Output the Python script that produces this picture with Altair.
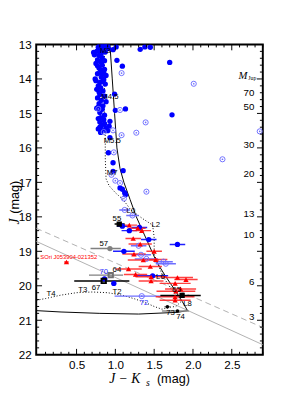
import altair as alt
import pandas as pd

# ---------------- data (J-Ks, J) ----------------
# blue filled circles, no error bars
bf_c = [0.80, 0.83, 0.86, 0.88, 0.90, 0.78, 0.84, 0.91, 0.81, 0.72, 0.76, 0.87,
        0.79, 0.83, 0.77, 0.81, 0.86, 0.75, 0.83, 0.79,
        0.81, 0.85, 0.77, 0.88, 0.82, 0.86,
        0.75, 0.80, 0.84, 0.78, 0.87, 0.81, 0.76, 0.84,
        0.80, 0.86, 0.77, 0.82, 0.79, 0.88, 0.84,
        0.78, 0.83, 0.80, 0.86, 0.81, 0.85,
        0.80, 0.86, 0.82, 0.78, 0.84, 0.88, 0.81,
        0.97, 1.01, 1.02, 1.09, 1.32, 1.38, 1.45, 1.70, 0.99, 1.13, 1.00, 1.73, 0.93, 0.92, 0.90,
        0.93, 0.91, 0.97, 1.10, 0.97, 1.06, 1.09, 1.12, 1.13,
        0.73, 0.77, 0.74, 0.79, 0.85, 0.82, 0.76, 0.80, 0.83, 0.78]
bf_j = [13.02, 13.03, 13.02, 13.05, 13.03, 13.08, 13.10, 13.12, 13.15, 13.23, 13.20, 13.22,
        13.32, 13.38, 13.45, 13.50, 13.47, 13.55, 13.60, 13.68,
        13.75, 13.80, 13.85, 13.90, 13.95, 13.72,
        14.05, 14.10, 14.08, 14.20, 14.15, 14.25, 14.30, 14.35,
        14.45, 14.50, 14.55, 14.62, 14.72, 14.66, 14.78,
        14.82, 14.88, 14.97, 15.05, 15.12, 15.18,
        15.25, 15.30, 15.36, 15.45, 15.50, 15.42, 15.55,
        13.15, 13.07, 13.46, 13.63, 13.14, 13.07, 13.08, 13.52, 14.44, 14.87, 14.91, 15.04, 15.23, 15.37, 15.50,
        15.70, 16.14, 16.43, 16.66, 16.68, 17.16, 17.20, 17.30, 17.36,
        13.30, 13.62, 14.00, 14.38, 14.02, 13.25, 14.85, 15.40, 13.85, 15.15]

# open dotted circles, no error bars
oc_c = [1.08, 2.01, 1.06, 0.78, 1.39, 1.27, 1.08, 0.97, 0.85, 2.86, 2.38, 0.98, 0.95, 1.00, 1.06, 1.40, 1.11]
oc_j = [13.83, 14.14, 14.90, 14.87, 15.26, 15.56, 15.63, 15.49, 15.54, 15.52, 16.33, 16.13, 16.78, 16.95, 17.02, 17.27, 17.47]

# open dotted circles with error bars
oce_c = [1.12, 1.22, 1.30, 1.33, 1.40, 1.62, 1.65, 1.34]
oce_j = [17.80, 17.96, 18.84, 19.10, 19.22, 19.30, 19.36, 20.30]
oce_lo = [1.05, 1.14, 1.20, 1.20, 1.25, 1.50, 1.52, 0.99]
oce_hi = [1.19, 1.30, 1.40, 1.46, 1.55, 1.74, 1.78, 1.75]

# blue filled circles with error bars
bfe_c = [1.09, 1.18, 1.31, 1.43, 1.80, 1.11, 1.48, 0.86, 0.98]
bfe_j = [18.27, 18.40, 18.31, 18.66, 18.80, 19.00, 19.71, 19.80, 19.93]
bfe_lo = [1.02, 1.08, 1.21, 1.33, 1.70, 0.97, 1.25, 0.82, 0.95]
bfe_hi = [1.16, 1.28, 1.41, 1.53, 1.90, 1.25, 1.68, 0.90, 1.01]

# red triangles with error bars
rt_c = [1.18, 1.29, 1.34, 1.23, 1.32, 1.50, 1.24, 1.36, 1.52, 1.45, 1.17, 1.26, 1.46, 1.80, 1.91, 1.77, 1.84, 1.78, 1.77, 1.77, 0.37, 1.46]
rt_j = [18.24, 18.33, 18.40, 18.63, 18.79, 19.00, 19.08, 19.25, 19.24, 19.44, 19.51, 19.67, 19.74, 19.76, 19.82, 19.93, 20.09, 20.16, 20.32, 20.42, 19.31, 19.86]
rt_lo = [1.08, 1.19, 1.22, 1.13, 1.17, 1.40, 1.09, 1.16, 1.37, 1.30, 1.00, 1.11, 1.26, 1.60, 1.76, 1.57, 1.64, 1.53, 1.52, 1.57, 0.34, 1.30]
rt_hi = [1.28, 1.39, 1.46, 1.33, 1.47, 1.60, 1.39, 1.56, 1.67, 1.60, 1.34, 1.41, 1.66, 2.00, 2.06, 1.97, 2.04, 2.03, 2.02, 1.97, 0.40, 1.62]

# black filled squares (55, 65)
bs_c = [1.05, 1.86]
bs_j = [18.21, 20.28]
bs_lo = [0.99, 1.58]
bs_hi = [1.12, 2.10]
# black open square (67)
bo_c = [0.85]
bo_j = [19.86]
bo_lo = [0.47]
bo_hi = [1.18]
# grey objects (57 circle, 64 square)
gc_c = [0.93]
gc_j = [18.92]
gc_lo = [0.68]
gc_hi = [1.07]
gs_c = [0.94]
gs_j = [19.69]
gs_lo = [0.66]
gs_hi = [1.10]
# small black points (73, 74)
bk_c = [1.67, 1.80]
bk_j = [20.61, 20.73]
bk_lo = [1.63, 1.60]
bk_hi = [1.71, 1.95]

# model isochrone (solid)
mod_c = [0.93, 0.96, 0.99, 1.02, 1.06, 1.11, 1.19, 1.27, 1.37, 1.47, 1.53, 1.64, 1.76, 1.86, 1.93, 1.80, 1.30, 0.80, 0.30, -0.02]
mod_j = [13.0, 14.0, 15.0, 16.0, 16.6, 17.0, 17.5, 18.0, 18.5, 19.0, 19.3, 19.7, 20.1, 20.45, 20.72, 20.77, 20.82, 20.80, 20.76, 20.72]
# spectral sequence (dotted)
seq_c = [0.86, 0.86, 0.86, 0.87, 0.87, 0.88, 0.92, 1.00, 1.10, 1.20, 1.35, 1.48, 1.50, 1.50, 1.57, 1.62, 1.72, 1.85, 1.78, 1.70,
         1.60, 1.50, 1.40, 1.25, 1.10, 0.90, 0.70, 0.50, 0.30, 0.10, -0.02]
seq_j = [13.0, 14.0, 15.0, 15.7, 16.3, 16.9, 17.1, 17.3, 17.5, 17.8, 18.05, 18.24, 18.6, 19.08, 19.5, 19.75, 20.1, 20.45, 20.6, 20.62,
         20.68, 20.6, 20.5, 20.38, 20.28, 20.2, 20.18, 20.2, 20.27, 20.37, 20.42]
# completeness lines
lim_c = [-0.02, 2.9]
lim_solid_j = [18.71, 21.71]
lim_dash_j = [18.33, 21.21]

# annotations
lab_t = ["M3", "M4.5", "M5.5", "M7", "L0", "L2", "L6", "L8", "T2", "T3", "T4",
         "55", "57", "64", "67", "65", "73", "74", "70", "72", "SOri J053904-021352"]
lab_c = [0.87, 0.93, 0.96, 0.96, 1.20, 1.52, 1.58, 1.93, 1.02, 0.58, 0.17,
         1.02, 0.85, 1.02, 0.75, 1.79, 1.71, 1.84, 0.85, 1.37, 0.40]
lab_j = [13.18, 14.52, 15.80, 16.72, 17.83, 18.24, 19.75, 20.52, 20.18, 20.12, 20.24,
         18.05, 18.78, 19.55, 20.07, 20.13, 20.78, 20.90, 19.60, 20.51, 19.18]
lab_col = ["black"] * 18 + ["#3030ff", "#3030ff", "red"]
lab_size = [8] * 20 + [6]

# right-hand mass scale
mj_t = ["70", "50", "30", "20", "13", "10", "6", "3"]
mj_j = [14.42, 14.81, 15.92, 16.76, 17.93, 18.52, 19.90, 20.90]
mj_c = [2.79] * 8

# ---------------- chart ----------------
W, H = 233, 319
xs = alt.Scale(domain=[-0.02, 2.9], nice=False, zero=False)
ys = alt.Scale(domain=[13, 22], nice=False, zero=False, reverse=True)
xax = alt.Axis(values=[0.5, 1.0, 1.5, 2.0, 2.5], format=".1f", ticks=False, domain=False, grid=False,
               title=None, labelFontSize=12, labelFont="Liberation Sans", labelPadding=5, labelColor="black")
yax = alt.Axis(values=list(range(13, 23)), ticks=False, domain=False, grid=False,
               title=None, labelFontSize=12, labelFont="Liberation Sans", labelPadding=5, labelColor="black")


def X(f="c"):
    return alt.X(f, type="quantitative", scale=xs, axis=xax)


def Y(f="j"):
    return alt.Y(f, type="quantitative", scale=ys, axis=yax)


def pts(c, j, lo=None, hi=None):
    d = {"c": c, "j": j}
    if lo is not None:
        d["lo"] = lo
        d["hi"] = hi
    return pd.DataFrame(d)


def bars(df, color, width=1.5, opacity=1.0):
    return alt.Chart(df).mark_rule(color=color, strokeWidth=width, opacity=opacity, clip=True).encode(
        x=X("lo"), x2=alt.X2("hi"), y=Y())


layers = []

# lines
lim_df = pd.DataFrame({"c": lim_c * 2, "j": lim_solid_j + lim_dash_j, "g": ["s", "s", "d", "d"]})
layers.append(alt.Chart(lim_df[lim_df.g == "s"]).mark_line(color="#b0b0b0", strokeWidth=1, clip=True).encode(X(), Y()))
layers.append(alt.Chart(lim_df[lim_df.g == "d"]).mark_line(color="#b0b0b0", strokeWidth=1, strokeDash=[6, 4], clip=True).encode(X(), Y()))
mod_df = pd.DataFrame({"c": mod_c, "j": mod_j, "i": list(range(len(mod_c)))})
layers.append(alt.Chart(mod_df).mark_line(color="black", strokeWidth=1, clip=True).encode(X(), Y(), order="i:Q"))
seq_df = pd.DataFrame({"c": seq_c, "j": seq_j, "i": list(range(len(seq_c)))})
layers.append(alt.Chart(seq_df).mark_line(color="black", strokeWidth=1, strokeDash=[1, 2], clip=True).encode(X(), Y(), order="i:Q"))

# error bars
rt = pts(rt_c, rt_j, rt_lo, rt_hi)
oce = pts(oce_c, oce_j, oce_lo, oce_hi)
bfe = pts(bfe_c, bfe_j, bfe_lo, bfe_hi)
bs = pts(bs_c, bs_j, bs_lo, bs_hi)
bo = pts(bo_c, bo_j, bo_lo, bo_hi)
gc = pts(gc_c, gc_j, gc_lo, gc_hi)
gs = pts(gs_c, gs_j, gs_lo, gs_hi)
bk = pts(bk_c, bk_j, bk_lo, bk_hi)
layers += [bars(gc, "#808080"), bars(gs, "#808080"), bars(bo, "black"), bars(bk, "#909090"),
           bars(oce, "#6f6fff"), bars(bfe, "#2020ff"), bars(rt, "#ff2020", opacity=0.85), bars(bs, "black")]

# symbols
bf = pts(bf_c, bf_j)
oc = pts(oc_c + oce_c, oc_j + oce_j)
layers.append(alt.Chart(bf).mark_circle(color="#0000ff", size=30, opacity=1, clip=True).encode(X(), Y()))
layers.append(alt.Chart(oc).mark_point(shape="circle", filled=False, color="#6f6fff", size=28, strokeWidth=1, opacity=1, clip=True).encode(X(), Y()))
layers.append(alt.Chart(oc).mark_circle(color="#6f6fff", size=3, opacity=1, clip=True).encode(X(), Y()))
layers.append(alt.Chart(bfe).mark_circle(color="#0000ff", size=30, opacity=1, clip=True).encode(X(), Y()))
layers.append(alt.Chart(rt).mark_point(shape="triangle-up", filled=True, color="#ff0000", size=30, opacity=1, clip=True).encode(X(), Y()))
layers.append(alt.Chart(gc).mark_circle(color="#808080", size=30, opacity=1, clip=True).encode(X(), Y()))
layers.append(alt.Chart(gs).mark_point(shape="square", filled=False, color="#707070", size=20, opacity=1, clip=True).encode(X(), Y()))
layers.append(alt.Chart(bo).mark_point(shape="square", filled=False, color="black", size=20, opacity=1, clip=True).encode(X(), Y()))
layers.append(alt.Chart(bs).mark_square(color="black", size=30, opacity=1, clip=True).encode(X(), Y()))
layers.append(alt.Chart(bk).mark_circle(color="black", size=14, opacity=1, clip=True).encode(X(), Y()))

# annotations
lab = pd.DataFrame({"c": lab_c, "j": lab_j, "t": lab_t, "col": lab_col, "s": lab_size})
layers.append(alt.Chart(lab).mark_text(font="Liberation Sans", align="center", baseline="middle").encode(
    X(), Y(), text="t:N", color=alt.Color("col:N", scale=None), size=alt.Size("s:Q", scale=None)))
mj = pd.DataFrame({"c": mj_c, "j": mj_j, "t": mj_t})
layers.append(alt.Chart(mj).mark_text(font="Liberation Sans", fontSize=10, align="right", baseline="middle", color="black").encode(
    X(), Y(), text="t:N"))

# ticks (inward, all four sides)
xmaj = [0.5, 1.0, 1.5, 2.0, 2.5]
xmin = [round(0.1 * k, 1) for k in range(1, 30) if k % 5 != 0]
ymaj = list(range(14, 22))
ymin = [round(13 + 0.2 * k, 1) for k in range(1, 45) if k % 5 != 0]
for vals, ln in [(xmaj, 6), (xmin, 3)]:
    d = pd.DataFrame({"c": vals})
    layers.append(alt.Chart(d).mark_rule(color="black", strokeWidth=1).encode(x=X(), y=alt.value(H), y2=alt.value(H - ln)))
    layers.append(alt.Chart(d).mark_rule(color="black", strokeWidth=1).encode(x=X(), y=alt.value(0), y2=alt.value(ln)))
for vals, ln in [(ymaj, 6), (ymin, 3)]:
    d = pd.DataFrame({"j": vals})
    layers.append(alt.Chart(d).mark_rule(color="black", strokeWidth=1).encode(y=Y(), x=alt.value(0), x2=alt.value(ln)))
    layers.append(alt.Chart(d).mark_rule(color="black", strokeWidth=1).encode(y=Y(), x=alt.value(W), x2=alt.value(W - ln)))

# axis titles and mass label (text in pixel space)
def txt(s, x, y, **kw):
    return alt.Chart(pd.DataFrame({"a": [0]})).mark_text(text=s, **kw).encode(x=alt.value(x), y=alt.value(y))

layers.append(txt("J − K", 75, 348, font="Liberation Serif", fontStyle="italic", fontSize=14, align="left", baseline="alphabetic"))
layers.append(txt("s", 113, 351, font="Liberation Serif", fontStyle="italic", fontSize=10, align="left", baseline="alphabetic"))
layers.append(txt("(mag)", 158, 348, font="Liberation Sans", fontSize=13, align="right", baseline="alphabetic"))
layers.append(txt("J", -18, 182, font="Liberation Serif", fontStyle="italic", fontSize=14, angle=270, align="center", baseline="alphabetic"))
layers.append(txt("(mag)", -18, 157, font="Liberation Sans", fontSize=13, angle=270, align="center", baseline="alphabetic"))
layers.append(txt("M", 208, 35, font="Liberation Serif", fontStyle="italic", fontSize=11, align="left", baseline="alphabetic"))
layers.append(txt("Jup", 218, 37, font="Liberation Serif", fontSize=6, align="left", baseline="alphabetic"))

chart = alt.layer(*layers).properties(
    width=W, height=H,
    autosize=alt.AutoSizeParams(type="none"),
    padding={"left": 29, "top": 32, "right": 30, "bottom": 40},
    background="white",
).configure_view(stroke="black", strokeWidth=2)

chart.save("out.html", embed_options={"renderer": "svg", "actions": False})
